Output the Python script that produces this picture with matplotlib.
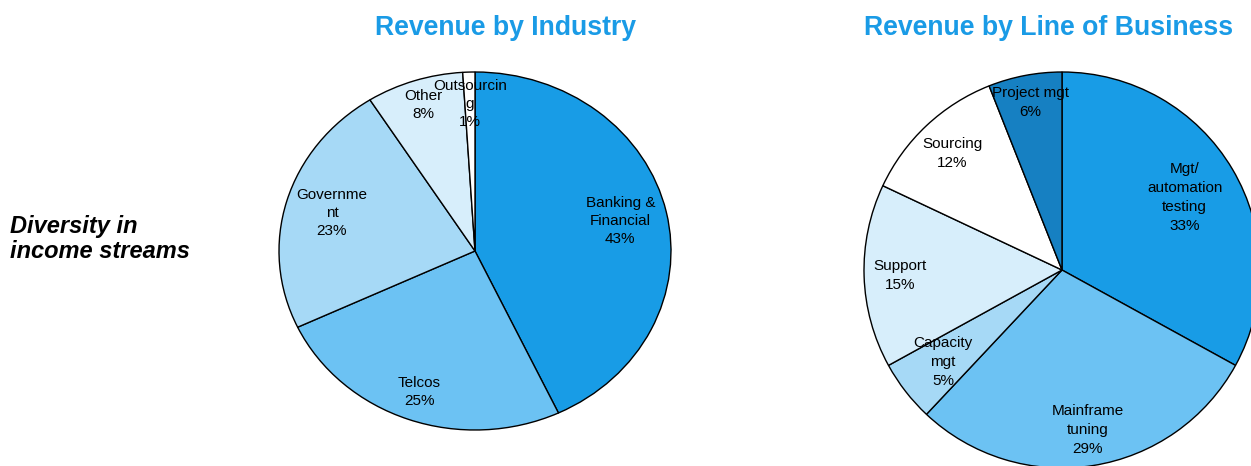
import numpy as np
import matplotlib
matplotlib.use("Agg")
import matplotlib.pyplot as plt

# Revenue by industry
industry_labels = ["Banking &\nFinancial", "Telcos", "Governme\nnt", "Other", "Outsourcin\ng"]
industry_values = [43, 25, 23, 8, 1]

# Revenue by line of business
lob_labels = ["Mgt/\nautomation\ntesting", "Mainframe\ntuning", "Capacity\nmgt",
              "Support", "Sourcing", "Project mgt"]
lob_values = [33, 29, 5, 15, 12, 6]

industry_colors = ["#189ce6", "#6cc2f3", "#a6d9f6", "#d7eefb", "#ffffff"]
lob_colors = ["#189ce6", "#6cc2f3", "#a6d9f6", "#d7eefb", "#ffffff", "#1680c2"]

# radial distance of each label (fraction of the radius)
industry_label_r = [0.76, 0.84, 0.76, 0.86, 0.82]
lob_label_r = [0.72, 0.82, 0.76, 0.82, 0.81, 0.86]

W, H = 1251, 466
fig = plt.figure(figsize=(W / 100, H / 100), dpi=100)
plt.rcParams["font.family"] = ["Liberation Sans", "DejaVu Sans"]

TITLE_COLOR = "#1a9be6"
LIM = 1.05


def pie_axes(cx, cy, rx, ry):
    w = 2 * rx * LIM
    h = 2 * ry * LIM
    left = cx - w / 2
    bottom = H - (cy + h / 2)
    return fig.add_axes([left / W, bottom / H, w / W, h / H])


def draw_pie(ax, values, labels, colors, dists, spacing):
    wedges, _ = ax.pie(values, colors=colors, startangle=90, counterclock=False,
                       wedgeprops=dict(edgecolor="black", linewidth=1.0),
                       normalize=True)
    ax.set_aspect("auto")
    ax.set_xlim(-LIM, LIM)
    ax.set_ylim(-LIM, LIM)
    ax.axis("off")
    total = float(sum(values))
    for w, lab, v, d in zip(wedges, labels, values, dists):
        theta = np.deg2rad((w.theta1 + w.theta2) / 2)
        pct = round(100 * v / total)
        ax.text(d * np.cos(theta), d * np.sin(theta), f"{lab}\n{pct}%",
                ha="center", va="center", fontsize=11, linespacing=spacing,
                color="black")


ax1 = pie_axes(475, 251, 196, 179)
draw_pie(ax1, industry_values, industry_labels, industry_colors, industry_label_r, 1.36)

ax2 = pie_axes(1062, 270, 198, 198)
draw_pie(ax2, lob_values, lob_labels, lob_colors, lob_label_r, 1.45)

fig.text(505.5 / W, 1 - 28 / H, "Revenue by Industry", ha="center", va="center",
         fontsize=19.2, fontweight="bold", color=TITLE_COLOR)
fig.text(1049 / W, 1 - 28 / H, "Revenue by Line of Business", ha="center", va="center",
         fontsize=19.2, fontweight="bold", color=TITLE_COLOR)

fig.text(10 / W, 1 - 239 / H, "Diversity in\nincome streams", ha="left", va="center",
         fontsize=17, fontweight="bold", fontstyle="italic", linespacing=1.15,
         color="black")

fig.savefig("out.png", dpi=100, facecolor="white")
